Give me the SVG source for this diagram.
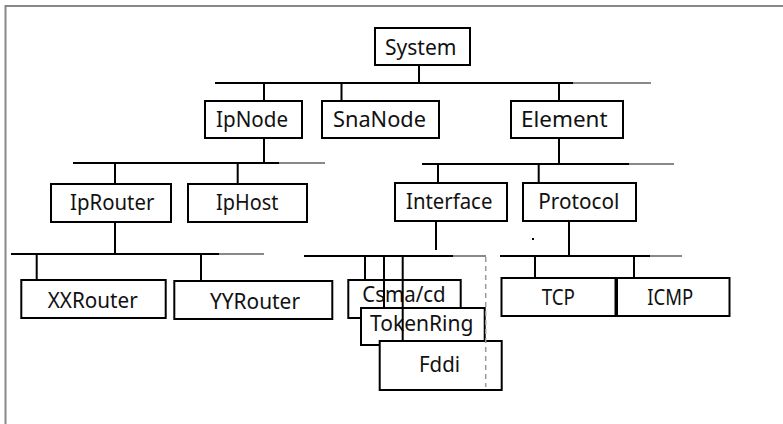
<svg xmlns="http://www.w3.org/2000/svg" width="783" height="424" viewBox="0 0 783 424">
<style>
.box{fill:#fff;stroke:#000;stroke-width:2}
.lbl{font-family:"Noto Sans","Liberation Sans",sans-serif;font-size:21px;fill:#111;text-anchor:middle}
.ln{stroke:#000;stroke-width:2;fill:none}
.gr{stroke:#888;stroke-width:2;fill:none}
.dash{stroke:#999;stroke-width:1.5;stroke-dasharray:5,4;fill:none}
</style>
<rect width="783" height="424" fill="#fff"/>
<path class="gr" d="M5.5,424 V6 H783"/>
<g id="nodes">
<g id="System"><rect class="box" x="375" y="28" width="95" height="37"/><text class="lbl" x="420.7" y="54.5" textLength="71.5" lengthAdjust="spacingAndGlyphs">System</text></g>
<g id="IpNode"><rect class="box" x="205" y="101" width="97" height="37"/><text class="lbl" x="252" y="127" textLength="72" lengthAdjust="spacingAndGlyphs">IpNode</text></g>
<g id="SnaNode"><rect class="box" x="322" y="101" width="117" height="37"/><text class="lbl" x="379.5" y="127" textLength="93" lengthAdjust="spacingAndGlyphs">SnaNode</text></g>
<g id="Element"><rect class="box" x="511" y="101" width="112" height="37"/><text class="lbl" x="564.3" y="127" textLength="86.5" lengthAdjust="spacingAndGlyphs">Element</text></g>
<g id="IpRouter"><rect class="box" x="51" y="184" width="120" height="38"/><text class="lbl" x="112.2" y="210" textLength="84.3" lengthAdjust="spacingAndGlyphs">IpRouter</text></g>
<g id="IpHost"><rect class="box" x="188" y="184" width="119" height="38"/><text class="lbl" x="247.2" y="210" textLength="62.3" lengthAdjust="spacingAndGlyphs">IpHost</text></g>
<g id="Interface"><rect class="box" x="395" y="183" width="112" height="38"/><text class="lbl" x="449.2" y="209.3" textLength="86.3" lengthAdjust="spacingAndGlyphs">Interface</text></g>
<g id="Protocol"><rect class="box" x="523" y="183" width="113" height="38"/><text class="lbl" x="578.8" y="209.3" textLength="81" lengthAdjust="spacingAndGlyphs">Protocol</text></g>
<g id="XXRouter"><rect class="box" x="21.3" y="280" width="144.4" height="38"/><text class="lbl" x="92.7" y="307.7" textLength="90" lengthAdjust="spacingAndGlyphs">XXRouter</text></g>
<g id="YYRouter"><rect class="box" x="174.3" y="281" width="158" height="38"/><text class="lbl" x="255" y="308.5" textLength="90" lengthAdjust="spacingAndGlyphs">YYRouter</text></g>
<g id="TCP"><rect class="box" x="501.5" y="278" width="114" height="38"/><text class="lbl" x="558.3" y="305" textLength="33.3" lengthAdjust="spacingAndGlyphs">TCP</text></g>
<g id="ICMP"><rect class="box" x="617" y="278" width="112.5" height="38"/><text class="lbl" x="670.3" y="305" textLength="46" lengthAdjust="spacingAndGlyphs">ICMP</text></g>
<g id="Csma"><rect class="box" x="348.3" y="280" width="112.4" height="38"/><text class="lbl" x="404" y="302.3" textLength="83.3" lengthAdjust="spacingAndGlyphs">Csma/cd</text></g>
<g id="TokenRing"><rect class="box" x="361" y="308" width="123.7" height="37"/><text class="lbl" x="421.7" y="330.7" textLength="103.3" lengthAdjust="spacingAndGlyphs">TokenRing</text></g>
<g id="Fddi"><rect class="box" x="379.7" y="341" width="122" height="49"/><text class="lbl" x="439.5" y="372.3" textLength="41" lengthAdjust="spacingAndGlyphs">Fddi</text></g>
</g>
<g id="connectors">
<path class="ln" d="M419,65 V83 M215,83 H573.5 M264,83 V101 M341.5,83 V101 M559,83 V101"/>
<path class="gr" d="M573.5,83 H651"/>
<path class="ln" d="M264,138 V163 M73,163 H279 M115,163 V184 M237.7,163 V184"/>
<path class="gr" d="M279,163 H325"/>
<path class="ln" d="M115,222 V254 M11,254 H219 M36.7,254 V280 M201,254 V281"/>
<path class="gr" d="M219,254 H264"/>
<path class="ln" d="M559,138 V164 M422,164 H629 M438,164 V183 M538.7,164 V183"/>
<path class="gr" d="M629,164 H674"/>
<path class="ln" d="M436,221 V250 M304,256 H453 M365,256 V280 M384,256 V308 M402.7,256 V341"/>
<path class="gr" d="M453,256 H486"/>
<path class="dash" d="M485.7,257 V387"/>
<path class="ln" d="M569,221 V256 M500,256 H650 M535,256 V278 M634,256 V278"/>
<path class="gr" d="M650,256 H682"/>
<rect x="532" y="238" width="2" height="2" fill="#000"/>
</g>
</svg>
